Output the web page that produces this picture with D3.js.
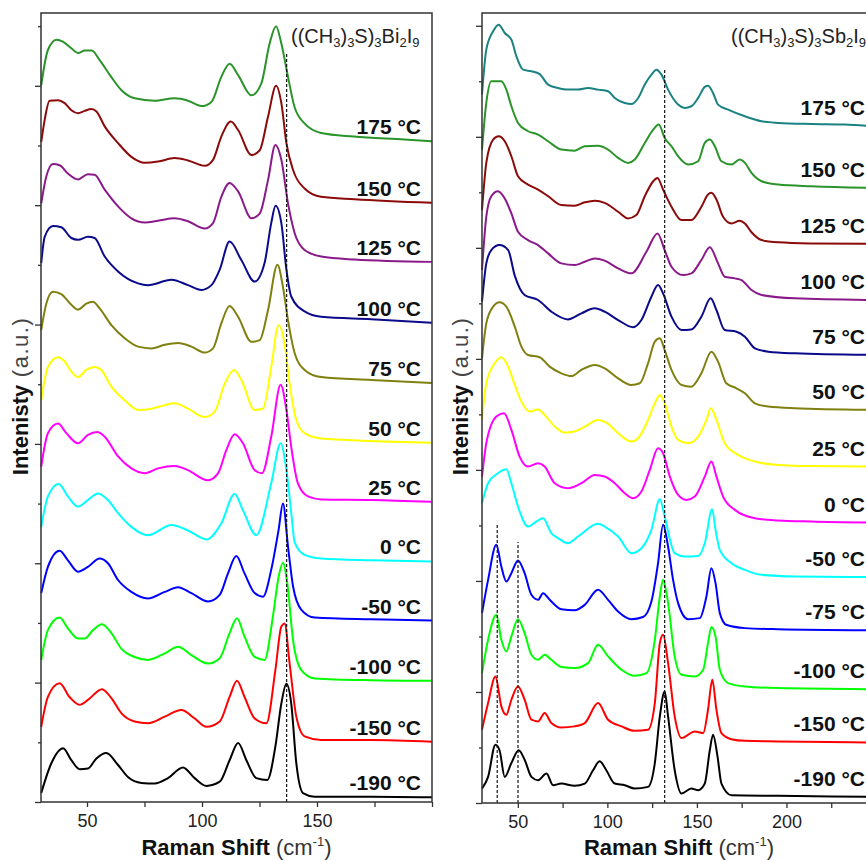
<!DOCTYPE html>
<meta charset="utf-8">
<title>Raman spectra vs temperature</title>
<style>
body {
  margin: 0;
  background: #fff;
}
text {
  font-family: "Liberation Sans", Arial, sans-serif;
}
.curve {
  fill: none;
  stroke-width: 2px;
  stroke-linejoin: round;
}
</style>
<body>
<script src="https://d3js.org/d3.v7.min.js"></script>
<script>
// ((CH3)3S)3Bi2I9 spectra, [Raman shift, intensity a.u.], top to bottom
var biLabels = ["175 °C", "150 °C", "125 °C", "100 °C", "75 °C", "50 °C", "25 °C", "0 °C", "-50 °C", "-100 °C", "-150 °C", "-190 °C"];
var biColors = ["#2a942a", "#8b0a0a", "#8a1a8a", "#0a0a8a", "#808010", "#ffff00", "#ff00ff", "#00ffff", "#0000ff", "#00ff00", "#ff0000", "#000000"];

var bi175 = [[30.1,12.01],[33,12.6],[36.7,12.77],[39.5,12.74],[43.2,12.63],[46.1,12.55],[49,12.59],[52,12.59],[55.5,12.43],[60.5,12.15],[64.9,11.93],[70.8,11.79],[79.4,11.75],[88,11.79],[93.9,11.75],[99.8,11.66],[104.1,11.73],[108.4,12.15],[112,12.37],[115.7,12.18],[121.5,11.84],[125.8,12.04],[129.4,12.71],[132.2,13],[134.5,12.71],[137.4,12.15],[140.2,11.65],[144.6,11.37],[151.8,11.21],[166,11.15],[188,11.1],[200,11.07]];
var bi150 = [[30.1,11.06],[31.6,11.43],[33.7,11.75],[37.4,11.76],[40.3,11.71],[43.2,11.59],[46.1,11.54],[49,11.58],[51.9,11.61],[54.1,11.57],[57.7,11.32],[63.5,11.04],[69.3,10.81],[75.1,10.71],[80.9,10.73],[88.1,10.79],[93.9,10.75],[101.2,10.66],[104.8,10.76],[108.4,11.15],[112.5,11.4],[115.7,11.26],[121.5,10.84],[125.1,10.92],[128.7,11.48],[132.2,12],[134.5,11.71],[136.7,11.04],[139.6,10.59],[144.6,10.28],[151.8,10.14],[166.3,10.1],[200,10.04]];
var bi125 = [[30.1,10.03],[32.3,10.48],[35.2,10.69],[38.1,10.67],[41.7,10.53],[46.1,10.43],[50.4,10.52],[53.3,10.51],[57.7,10.26],[63.5,9.98],[69.3,9.78],[75.1,9.71],[80.9,9.74],[88.1,9.78],[93.9,9.73],[101.2,9.61],[104.8,9.7],[108.4,10.14],[112,10.37],[115.7,10.23],[121.5,9.78],[125.1,9.86],[128.7,10.42],[131.9,11.01],[134.5,10.76],[137.4,10.03],[140.3,9.53],[144.6,9.25],[151.8,9.14],[166.3,9.09],[200,9.05]];
var bi100 = [[30.1,9.03],[31.6,9.47],[35.2,9.65],[38.8,9.63],[43.2,9.45],[46.1,9.42],[50.4,9.47],[53.3,9.45],[57.7,9.14],[63.5,8.89],[72.2,8.69],[76.5,8.66],[86.7,8.75],[93.9,8.66],[99.8,8.58],[104.1,8.66],[107.7,8.92],[112,9.39],[117.1,9.08],[122.9,8.72],[127.2,9.03],[130.1,9.7],[132,9.99],[134.5,9.7],[136.7,8.92],[138.8,8.47],[144.6,8.22],[151.8,8.13],[173.6,8.09],[200,8.03]];
var bi75 = [[30.1,7.91],[32.3,8.35],[35.2,8.55],[38.8,8.51],[43.2,8.33],[46.1,8.25],[49.7,8.35],[52.6,8.38],[55.5,8.27],[60.6,7.99],[66.4,7.77],[72.2,7.63],[78,7.6],[83.8,7.66],[89.6,7.69],[95.4,7.63],[101.2,7.53],[104.8,7.6],[108.4,8.02],[112,8.31],[115.7,8.13],[121.5,7.71],[125.1,7.74],[128.7,8.24],[132.8,9],[135.2,8.63],[137.4,8.07],[140.3,7.52],[144.6,7.24],[151.8,7.12],[173.6,7.07],[200,7.02]];
var bi50 = [[30.1,6.73],[33,7.29],[37.4,7.45],[40.3,7.38],[43.2,7.21],[46.1,7.12],[49.7,7.24],[53.3,7.29],[56.2,7.24],[60.6,6.96],[66.4,6.73],[72.2,6.57],[78,6.59],[83.8,6.65],[88.1,6.68],[93.9,6.59],[101.2,6.45],[105.5,6.54],[109.9,7.01],[113.9,7.24],[117.1,7.07],[122.9,6.57],[126.5,6.59],[130.1,7.29],[133.3,7.99],[135.9,7.68],[138.1,7.01],[141,6.4],[144.6,6.18],[151.8,6.09],[173.6,6.05],[200,6.02]];
var bi25 = [[30.1,5.62],[33,6.18],[37.4,6.34],[41,6.18],[46.1,6.01],[50.4,6.15],[54.5,6.2],[57.7,6.12],[63.5,5.79],[69.3,5.59],[75.1,5.51],[80.9,5.59],[88.1,5.63],[93.9,5.56],[102.6,5.39],[107,5.51],[110.6,5.9],[114.2,6.16],[117.8,6.01],[122.9,5.56],[126.1,5.51],[130.1,6.12],[134.2,6.99],[136.7,6.57],[138.8,5.95],[141.7,5.34],[146.1,5.12],[151.8,5.07],[173.6,5.06],[200,5.03]];
var bi0 = [[30.1,4.61],[33,5.12],[37.7,5.33],[41.7,5.12],[46.1,4.95],[50.4,5.06],[54.8,5.17],[59.1,5.06],[63.5,4.84],[69.3,4.61],[76.5,4.47],[86.7,4.64],[93.9,4.55],[102,4.4],[108.4,4.67],[114.2,5.16],[117.8,4.89],[123.6,4.47],[130.1,5.34],[134.2,6.01],[136.7,5.56],[138.8,4.85],[140.3,4.35],[144.6,4.14],[151.8,4.08],[173.6,4.05],[200,4.03]];
var biM50 = [[30.1,3.5],[33,3.94],[38.1,4.21],[41.7,4.05],[46.1,3.86],[50.4,3.94],[55.5,4.08],[59.1,4],[63.5,3.72],[69.3,3.52],[76.5,3.41],[83.8,3.52],[89.6,3.6],[95.4,3.5],[102.6,3.36],[107.7,3.47],[111.3,3.83],[114.9,4.12],[118.5,3.83],[122.9,3.5],[126.5,3.44],[130.1,3.89],[133.3,4.56],[135.2,5],[137.4,4.28],[139.6,3.61],[143.2,3.22],[149,3.09],[173.6,3.06],[200,3.04]];
var biM100 = [[30.1,2.38],[33,2.88],[38.1,3.09],[41.7,2.91],[46.1,2.74],[49,2.74],[52.6,2.88],[56.5,2.98],[60.6,2.83],[64.9,2.57],[70.7,2.43],[76.5,2.38],[83.8,2.49],[89.6,2.6],[95.4,2.46],[102.6,2.32],[107.7,2.41],[112,2.83],[115.2,3.08],[118.5,2.77],[122.9,2.43],[127.2,2.38],[130.8,3.1],[133.3,3.77],[135.2,4.01],[137.1,3.66],[139.6,2.71],[143.2,2.21],[149,2.07],[173.6,2.04],[200,2.03]];
var biM150 = [[30.1,1.26],[33,1.76],[38.1,1.99],[42.4,1.76],[46.8,1.63],[50.4,1.71],[56.5,1.89],[60.6,1.74],[64.9,1.49],[70.7,1.35],[76.5,1.32],[83.8,1.43],[91,1.54],[96.8,1.4],[101.9,1.26],[107.7,1.35],[112,1.76],[115.2,2.03],[118.5,1.76],[122.9,1.4],[128,1.32],[131.9,2.21],[134.5,2.94],[135.9,2.99],[138.1,2.32],[141,1.43],[144.6,1.1],[151.8,1.04],[173.6,1.04],[200,1.01]];
var biM190 = [[30.1,0.15],[34.5,0.65],[39.6,0.9],[43.2,0.7],[46.8,0.55],[50.4,0.56],[54.1,0.73],[58.4,0.82],[63.5,0.62],[67.8,0.42],[73.7,0.32],[79.4,0.31],[85.2,0.4],[91.7,0.58],[96.8,0.4],[101.9,0.27],[107.7,0.34],[112,0.7],[115.7,0.99],[119.3,0.7],[123.6,0.4],[128.4,0.37],[131.9,0.93],[134.5,1.65],[136.7,1.98],[138.8,1.65],[141,0.65],[143.9,0.15],[149,0.09],[173.6,0.09],[200,0.08]];
var biSeries = [bi175, bi150, bi125, bi100, bi75, bi50, bi25, bi0, biM50, biM100, biM150, biM190];
var biMarkers = [136.8];

// ((CH3)3S)3Sb2I9 spectra
var sbLabels = ["175 °C", "150 °C", "125 °C", "100 °C", "75 °C", "50 °C", "25 °C", "0 °C", "-50 °C", "-75 °C", "-100 °C", "-150 °C", "-190 °C"];
var sbColors = ["#1a8282", "#2a942a", "#8b0a0a", "#8a1a8a", "#0a0a8a", "#808010", "#ffff00", "#ff00ff", "#00ffff", "#0000ff", "#00ff00", "#ff0000", "#000000"];

var sb175 = [[30,12.76],[32.4,13.57],[36.2,13.9],[39.3,14.02],[42.7,13.87],[46.4,13.75],[49.2,13.45],[52.9,13.21],[57.6,13.18],[62.2,13.13],[66.9,12.94],[72.4,12.88],[78,12.85],[83.6,12.85],[89.2,12.88],[94.8,12.85],[100.4,12.82],[104.1,12.7],[109.7,12.61],[113.4,12.59],[117.2,12.7],[120.9,12.94],[124.6,13.12],[127.4,13.21],[130.2,13.12],[133.9,12.85],[139.5,12.58],[143.2,12.52],[146.9,12.55],[150.7,12.7],[154.4,12.9],[156.2,12.92],[159,12.79],[161.8,12.58],[167.4,12.49],[176.8,12.37],[186.1,12.28],[195.4,12.25],[214,12.23],[232.6,12.22],[250,12.19]];
var sb150 = [[30,11.77],[32.4,12.61],[35.2,13],[40.8,13],[43.6,12.85],[46.4,12.55],[50.1,12.25],[55.7,12.1],[61.3,12.04],[66.9,11.92],[74.3,11.77],[81.7,11.75],[87.4,11.83],[94.8,11.84],[100.4,11.77],[106,11.62],[111.6,11.53],[115.3,11.59],[120.9,11.89],[125.6,12.13],[128.7,12.22],[132,11.98],[135.8,11.83],[139.5,11.65],[145.1,11.5],[150.7,11.56],[154.4,11.89],[157.2,11.95],[160,11.83],[163.7,11.56],[169.3,11.5],[173.9,11.59],[176.8,11.53],[180.5,11.35],[186.1,11.2],[195.4,11.14],[214,11.11],[250,11.08]];
var sb125 = [[30,10.68],[32.4,11.53],[36.2,11.95],[39.3,12.01],[42.7,11.92],[46.4,11.65],[50.1,11.29],[55.7,11.14],[61.3,11.05],[66.9,10.93],[74.3,10.77],[81.7,10.76],[87.4,10.82],[93,10.85],[98.5,10.81],[106,10.65],[111.6,10.53],[116.2,10.59],[120.9,10.93],[125.6,11.2],[128,11.26],[131.1,11.05],[135.8,10.74],[141.4,10.5],[146.9,10.5],[152.5,10.74],[156.2,10.96],[158.1,10.99],[160.9,10.87],[164.6,10.56],[169.3,10.44],[173.9,10.49],[176.8,10.44],[180.5,10.28],[186.1,10.14],[195.4,10.1],[214,10.08],[250,10.07]];
var sb100 = [[30,9.6],[32.4,10.56],[35.2,10.93],[38.9,11.02],[42.7,10.89],[46.4,10.62],[50.1,10.29],[55.7,10.14],[61.3,10.05],[66.9,9.9],[74.3,9.72],[81.7,9.69],[87.4,9.75],[93,9.81],[98.5,9.77],[106,9.63],[113.4,9.54],[121.8,9.93],[128,10.26],[132,9.96],[135.8,9.66],[142.3,9.51],[146.9,9.54],[152.5,9.78],[157.2,10.01],[161.8,9.72],[165.5,9.48],[171.2,9.45],[174.9,9.42],[180.5,9.24],[186.1,9.15],[204.7,9.09],[250,9.06]];
var sb75 = [[30,9.03],[32.4,9.72],[35.2,9.96],[39.8,10.05],[44.6,9.96],[48.3,9.5],[53.8,9.15],[61.3,9.06],[68.7,8.85],[78,8.71],[85.5,8.82],[93,8.91],[98.5,8.85],[106,8.7],[114.4,8.57],[119,8.7],[124.6,9.12],[128.3,9.33],[131.1,9.18],[135.8,8.76],[141.4,8.52],[146.9,8.53],[152.5,8.76],[157.7,9.09],[160.9,8.88],[165.5,8.52],[172.1,8.49],[176.8,8.4],[182.4,8.19],[189.8,8.13],[204.7,8.1],[250,8.07]];
var sb50 = [[30,8.01],[32.4,8.64],[36.2,8.94],[39.8,9.02],[43.6,8.94],[48.3,8.58],[52,8.22],[55.7,8.07],[62.2,8.03],[67.8,7.86],[74.3,7.74],[79.9,7.69],[85.5,7.8],[93,7.89],[98.5,7.83],[106,7.65],[113.4,7.53],[118.1,7.56],[122.7,7.92],[126.5,8.31],[129.3,8.37],[132,8.16],[135.8,7.8],[141.4,7.53],[146.9,7.5],[152.5,7.74],[158.1,8.13],[161.8,7.95],[166.4,7.56],[172.1,7.47],[176.8,7.38],[182.4,7.2],[189.8,7.14],[204.7,7.11],[250,7.08]];
var sb25 = [[30,6.9],[32.4,7.56],[37.1,7.92],[40.8,8.03],[44.6,7.86],[48.3,7.53],[52,7.23],[56.6,7.05],[61.3,7.09],[65,6.99],[70.6,6.78],[76.2,6.67],[81.7,6.69],[87.4,6.78],[94.8,6.9],[100.4,6.83],[106,6.66],[113.4,6.51],[117.2,6.57],[122.7,6.9],[126.5,7.2],[129.3,7.35],[132,7.2],[135.8,6.78],[139.5,6.54],[145.1,6.48],[150.7,6.6],[155.3,6.9],[157.7,7.11],[160.9,6.9],[165.5,6.48],[173,6.27],[182.4,6.15],[195.4,6.09],[214,6.07],[250,6.06]];
var sb0 = [[30,5.88],[32.4,6.48],[38,6.96],[42.3,7.02],[46.4,6.72],[51,6.24],[55.7,6.06],[61.3,6.12],[65,6.06],[70.6,5.76],[78,5.67],[85.5,5.76],[93,5.91],[98.5,5.88],[104.1,5.76],[109.7,5.58],[114.4,5.49],[119,5.61],[123.7,6],[128.3,6.39],[131.1,6.3],[134.9,5.88],[139.5,5.55],[144.2,5.46],[148.8,5.52],[154.4,5.88],[158.1,6.15],[160.9,5.88],[164.6,5.52],[171.2,5.28],[182.4,5.13],[195.4,5.09],[214,5.07],[250,5.05]];
var sbM50 = [[30,5.4],[33.4,5.76],[38.9,5.94],[43.6,6.01],[46.4,5.76],[50.1,5.34],[55.7,4.98],[60.3,5.07],[64.1,5.13],[68.7,4.86],[72.4,4.77],[78,4.68],[83.6,4.8],[94.8,5.03],[98.5,4.98],[106,4.8],[113.4,4.5],[119,4.59],[124.6,4.92],[129.3,5.47],[132,5.16],[137.6,4.5],[143.2,4.44],[150.7,4.45],[154.4,4.68],[158.5,5.29],[160.4,4.92],[162.8,4.56],[169.3,4.32],[176.8,4.2],[186.1,4.11],[204.7,4.08],[250,4.07]];
var sbM75 = [[30,3.42],[33.4,4.02],[38,4.65],[40.8,4.26],[43.6,3.99],[46.4,4.14],[50.1,4.37],[53.8,4.14],[57.6,3.75],[61.3,3.66],[64.1,3.78],[67.8,3.66],[74.3,3.49],[81.7,3.47],[87.4,3.57],[94.8,3.84],[100.4,3.66],[106,3.45],[113.4,3.31],[119.9,3.35],[124.6,3.63],[128.3,4.32],[131.1,5.01],[133.9,4.62],[136.7,4.02],[139.5,3.6],[145.1,3.31],[151.6,3.33],[155.3,3.72],[158.1,4.23],[160.4,3.96],[162.8,3.42],[166.4,3.21],[176.8,3.15],[195.4,3.13],[250,3.11]];
var sbM100 = [[30,2.34],[33.4,2.94],[38,3.39],[40.8,2.94],[43.6,2.73],[46.4,3],[50.1,3.31],[53.8,3.06],[57.6,2.67],[61.3,2.58],[65,2.67],[68.7,2.58],[74.3,2.45],[81.7,2.43],[89.2,2.52],[94.8,2.85],[100.4,2.64],[107.9,2.4],[115.3,2.29],[121.8,2.34],[126.5,2.94],[129.3,3.72],[131.1,4.02],[133.9,3.6],[137.6,2.64],[141.4,2.31],[148.8,2.28],[153.5,2.4],[156.2,2.88],[158.1,3.17],[160.4,3],[162.8,2.4],[167.4,2.16],[176.8,2.1],[195.4,2.07],[250,2.05]];
var sbM150 = [[30,1.32],[33.4,1.8],[37.5,2.28],[40.8,1.74],[43.6,1.59],[46.4,1.86],[50.1,2.1],[53.8,1.86],[57.6,1.5],[61.3,1.47],[65,1.62],[68.7,1.44],[74.3,1.36],[81.7,1.38],[87.4,1.44],[94.8,1.8],[100.4,1.5],[107.9,1.38],[115.3,1.3],[122.7,1.32],[126.5,1.8],[129.3,2.88],[131.1,3.03],[133.9,2.52],[137.6,1.56],[141.4,1.17],[148.8,1.29],[153.5,1.26],[156.2,1.68],[158.6,2.22],[160.9,1.68],[163.7,1.26],[169.3,1.15],[176.8,1.12],[195.4,1.11],[250,1.09]];
var sbM190 = [[30,0.26],[33.4,0.47],[37.5,1.05],[39.8,0.95],[42.7,0.47],[46.4,0.72],[50.5,0.95],[53.8,0.78],[57.6,0.47],[61.3,0.41],[66,0.53],[69.7,0.32],[74.3,0.35],[81.7,0.31],[87.4,0.35],[92,0.59],[95.7,0.75],[99.4,0.59],[104.1,0.35],[109.7,0.32],[115.3,0.26],[122.7,0.29],[126.5,0.72],[129.3,1.56],[132,2.01],[133.9,1.56],[137.6,0.59],[141.4,0.17],[146.9,0.26],[150.7,0.23],[154.4,0.35],[157.2,0.95],[159,1.23],[161.5,0.84],[163.7,0.35],[169.3,0.14],[195.4,0.13],[250,0.11]];
var sbSeries = [sb175, sb150, sb125, sb100, sb75, sb50, sb25, sb0, sbM50, sbM75, sbM100, sbM150, sbM190];
var sbMarkers = [38.5, 50.1, 132];

var w = 866,
    h = 860;

var svg = d3.select("body").append("svg")
    .attr("width", w)
    .attr("height", h);

drawPanel({
  left: 41, right: 432, top: 13, bottom: 802,
  xDomain: [30, 200], yMax: 13.22,
  xTicks: d3.range(50, 201, 25), yTicks: d3.range(0, 14),
  series: biSeries, colors: biColors, labels: biLabels, labelLift: 7,
  markers: biMarkers, markerTops: [12.56],
  formula: ["((CH", "3", ")", "3", "S)", "3", "Bi", "2", "I", "9"], formulaDx: 141,
  yTitleX: 28
});

drawPanel({
  left: 482, right: 876, top: 13, bottom: 803,
  xDomain: [30, 250], yMax: 14.23,
  xTicks: d3.range(50, 251, 25), yTicks: d3.range(0, 15),
  series: sbSeries, colors: sbColors, labels: sbLabels, labelLift: 11,
  markers: sbMarkers, markerTops: [5.01, 4.7, 13.24],
  formula: ["((CH", "3", ")", "3", "S)", "3", "Sb", "2", "I", "9"], formulaDx: 145,
  yTitleX: 468
});

function drawPanel(p) {
  var x = d3.scaleLinear().domain(p.xDomain).range([p.left, p.right]);
  var y = d3.scaleLinear().domain([0, p.yMax]).range([p.bottom, p.top]);
  var g = svg.append("g");

  var line = d3.line()
      .x(function(d) { return x(d[0]); })
      .y(function(d) { return y(d[1]); })
      .curve(d3.curveMonotoneX);

  g.selectAll(".curve")
      .data(p.series)
    .enter().append("path")
      .attr("class", "curve")
      .attr("stroke", function(d, i) { return p.colors[i]; })
      .attr("d", line);

  // dashed guide lines at the mode positions
  g.selectAll(".marker")
      .data(p.markers)
    .enter().append("line")
      .attr("class", "marker")
      .attr("x1", function(d) { return x(d); })
      .attr("x2", function(d) { return x(d); })
      .attr("y1", y(0))
      .attr("y2", function(d, i) { return y(p.markerTops[i]); })
      .attr("stroke", "#111")
      .attr("stroke-width", 1.2)
      .attr("stroke-dasharray", "3,2");

  g.selectAll(".tlabel")
      .data(p.series)
    .enter().append("text")
      .attr("class", "tlabel")
      .attr("x", p.right - 11)
      .attr("y", function(d) { return y(d[d.length - 1][1]) - p.labelLift; })
      .attr("text-anchor", "end")
      .attr("font-size", 21)
      .attr("font-weight", "bold")
      .attr("fill", "#111")
      .text(function(d, i) { return p.labels[i]; });

  // frame
  g.append("rect")
      .attr("x", p.left)
      .attr("y", p.top)
      .attr("width", p.right - p.left)
      .attr("height", p.bottom - p.top)
      .attr("fill", "none")
      .attr("stroke", "#333")
      .attr("stroke-width", 1.5);

  var xAxis = g.append("g")
      .attr("transform", "translate(0," + p.bottom + ")")
      .call(d3.axisBottom(x)
        .tickValues(p.xTicks)
        .tickSize(5)
        .tickFormat(function(d) { return d % 50 === 0 && d < p.xDomain[1] ? d : ""; }));
  xAxis.select(".domain").remove();
  xAxis.selectAll(".tick line").attr("stroke", "#333").attr("stroke-width", 1.3);
  xAxis.selectAll(".tick text")
      .attr("font-size", 18)
      .attr("font-family", "Liberation Sans, Arial, sans-serif")
      .attr("fill", "#222")
      .attr("dy", 17);

  var yAxis = g.append("g")
      .attr("transform", "translate(" + p.left + ",0)")
      .call(d3.axisLeft(y).tickValues(p.yTicks).tickFormat(""));
  yAxis.select(".domain").remove();
  yAxis.selectAll(".tick line")
      .attr("stroke", "#333")
      .attr("stroke-width", 1.3)
      .attr("x2", function(d) { return d % 2 === 0 ? -6 : -3; });

  // compound formula with subscripts
  var f = g.append("text")
      .attr("x", p.right - p.formulaDx)
      .attr("y", 43)
      .attr("font-size", 20)
      .attr("fill", "#222");
  p.formula.forEach(function(s, i) {
    var sub = i % 2 === 1;
    f.append("tspan")
        .attr("font-size", sub ? 13 : 20)
        .attr("dy", sub ? 4 : (i > 0 ? -4 : 0))
        .text(s);
  });

  var xt = g.append("text")
      .attr("x", (p.left + p.right) / 2)
      .attr("y", 855)
      .attr("text-anchor", "middle")
      .attr("font-size", 22)
      .attr("fill", "#111");
  xt.append("tspan").attr("font-weight", "bold").text("Raman Shift");
  xt.append("tspan").attr("fill", "#333").text(" (cm");
  xt.append("tspan").attr("fill", "#333").attr("font-size", 13).attr("dy", -9).text("-1");
  xt.append("tspan").attr("fill", "#333").attr("dy", 9).text(")");

  var yt = g.append("text")
      .attr("transform", "translate(" + p.yTitleX + ",396)rotate(-90)")
      .attr("text-anchor", "middle")
      .attr("font-size", 22)
      .attr("fill", "#111");
  yt.append("tspan").attr("font-weight", "bold").text("Intenisty");
  yt.append("tspan").attr("fill", "#444").attr("letter-spacing", 1.5).text(" (a.u.)");
}
</script>
